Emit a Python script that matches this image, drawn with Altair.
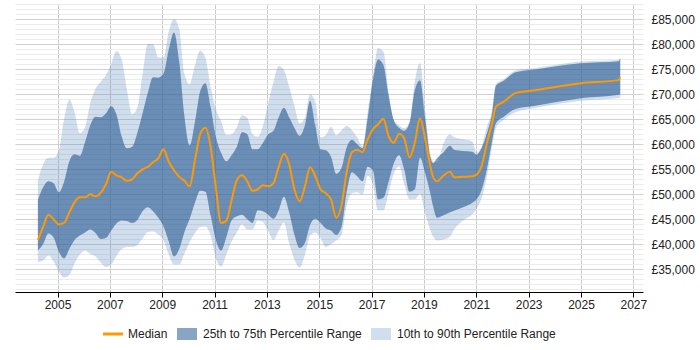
import altair as alt
import pandas as pd

# Sample dates: a regular 0.2-year grid up to 2019.25, then the sparser recent points
grid_years = [round(2004.25 + 0.2 * i, 2) for i in range(76)]
late_years = [2019.35, 2019.5, 2019.75, 2020.0, 2020.15, 2020.5, 2020.85, 2021.0,
              2021.2, 2021.4, 2021.6, 2021.75, 2022.05, 2022.5, 2023.25, 2025.0,
              2026.44, 2026.5]
years = grid_years + late_years

# Salary percentiles, £ thousands
median = [
    40.9, 43.5, 45.9, 45.0, 44.0, 44.3, 46.4, 48.4, 49.4, 49.4,
    50.0, 49.6, 50.3, 52.0, 54.5, 53.8, 53.4, 52.7, 53.0, 54.2,
    55.0, 55.5, 56.4, 57.2, 59.0, 56.5, 54.8, 53.5, 52.7, 51.6,
    56.8, 62.0, 63.3, 59.5, 51.3, 44.3, 44.7, 48.8, 52.8, 53.8,
    52.6, 50.7, 51.0, 51.8, 51.6, 52.2, 55.5, 58.1, 56.0, 51.0,
    48.6, 51.5, 55.4, 53.6, 51.0, 50.2, 49.0, 45.3, 47.8, 54.5,
    58.4, 58.9, 58.4, 61.0, 63.0, 64.0, 65.1, 61.6, 60.3, 62.1,
    61.1, 57.4, 60.3, 65.2, 61.0, 55.5,
    53.5, 52.6, 53.75, 54.5, 53.4, 53.5, 53.6, 53.9, 55.6, 60.1,
    64.1, 67.5, 68.5, 70.2, 70.8, 72.2, 72.8, 73.4,
]
p75 = [
    48.9, 51.4, 52.6, 52.2, 50.4, 52.5, 56.6, 58.0, 57.7, 60.4,
    63.8, 65.5, 65.4, 66.2, 67.6, 66.0, 61.6, 59.2, 59.5, 62.3,
    66.2, 70.3, 73.4, 73.3, 74.1, 78.9, 82.3, 76.5, 65.5, 59.8,
    64.5, 70.6, 72.2, 67.5, 61.5, 58.3, 56.6, 57.8, 59.5, 62.4,
    62.0, 59.0, 59.0, 60.3, 62.0, 62.7, 65.4, 67.3, 65.4, 63.3,
    61.7, 63.8, 68.7, 63.8, 59.0, 58.8, 57.5, 54.1, 55.3, 59.4,
    60.9, 60.0, 59.2, 65.2, 72.8, 76.9, 75.8, 69.7, 64.8, 63.3,
    62.7, 64.3, 70.8, 72.8, 65.0, 57.3,
    56.2, 57.2, 58.4, 59.7, 58.9, 58.65, 58.5, 57.9, 59.2, 62.1,
    66.1, 71.7, 72.7, 74.35, 74.9, 76.15, 76.55, 77.2,
]
p25 = [
    38.8, 40.1, 42.2, 41.4, 38.6, 37.2, 39.1, 40.9, 41.8, 42.4,
    43.0, 42.3, 41.1, 41.3, 42.8, 44.2, 44.8, 44.7, 44.3, 44.9,
    46.6, 47.4, 46.6, 45.3, 43.6, 40.6, 37.6, 39.1, 42.5, 45.1,
    48.3, 50.7, 50.5, 45.8, 40.9, 38.8, 41.5, 44.8, 45.6, 45.9,
    45.0, 44.3, 46.8, 46.6, 45.9, 45.1, 46.8, 49.5, 46.4, 42.0,
    39.3, 40.3, 43.9, 45.1, 44.3, 43.2, 42.8, 41.9, 43.5, 50.5,
    54.4, 53.6, 52.6, 55.5, 54.8, 49.0, 49.3, 52.5, 56.2, 57.8,
    54.9, 50.5, 51.0, 57.3, 54.2, 50.0,
    47.6, 45.3, 45.8, 46.4, 46.7, 47.4, 48.3, 48.9, 50.8, 54.9,
    60.5, 64.2, 65.5, 67.05, 67.7, 69.2, 69.9, 70.0,
]
p90 = [
    52.8, 56.0, 57.3, 57.3, 58.8, 65.0, 68.9, 66.4, 62.2, 63.4,
    68.2, 71.1, 72.5, 73.8, 76.0, 78.6, 76.9, 71.0, 66.0, 67.3,
    74.0, 80.0, 80.0, 77.3, 77.3, 82.5, 85.0, 83.0, 74.0, 72.0,
    75.8, 78.7, 77.2, 71.5, 67.0, 64.6, 61.9, 62.0, 63.4, 65.8,
    65.3, 62.0, 61.5, 63.7, 68.2, 72.4, 75.6, 74.8, 71.5, 67.7,
    64.2, 65.3, 70.0, 68.5, 61.4, 61.8, 63.5, 61.8, 62.8, 63.7,
    62.8, 61.4, 59.6, 66.5, 73.5, 79.2, 78.5, 70.5, 64.8, 63.8,
    63.2, 64.5, 72.5, 76.2, 66.7, 57.8,
    56.6, 56.4, 60.2, 62.0, 61.4, 61.0, 60.6, 58.3, 59.5, 63.4,
    66.7, 72.0, 73.0, 74.7, 75.2, 76.5, 76.8, 77.3,
]
p10 = [
    36.5, 36.8, 37.8, 36.6, 34.6, 33.4, 33.9, 36.2, 38.0, 38.8,
    38.1, 37.6, 36.4, 35.5, 36.0, 37.7, 39.1, 39.5, 39.5, 39.9,
    41.2, 42.5, 42.6, 42.0, 40.8, 38.0, 36.0, 36.0, 38.2, 40.5,
    42.3, 43.5, 43.6, 41.8, 37.2, 35.6, 38.0, 40.6, 42.4, 44.0,
    43.0, 43.0, 44.8, 44.5, 42.7, 40.9, 42.8, 44.4, 40.3, 37.0,
    35.4, 37.9, 41.8, 42.4, 41.3, 39.5, 40.1, 40.8, 42.0, 47.8,
    50.2, 50.4, 49.9, 53.7, 52.0, 46.8, 46.8, 50.3, 54.2, 55.6,
    52.0, 49.0, 49.0, 50.1, 46.1, 42.8,
    41.6, 40.8, 41.0, 41.6, 43.0, 44.8, 46.0, 47.0, 49.2, 53.4,
    59.4, 63.2, 64.9, 66.4, 67.25, 68.7, 69.25, 69.3,
]

x_ticks = list(range(2005, 2028, 2))
y_grid_values = list(range(31000, 88001, 1000))
legend_labels = ["Median", "25th to 75th Percentile Range", "10th to 90th Percentile Range"]

FONT = "Liberation Sans"
MEDIAN_COLOR = "#ff9900"
IQR_COLOR = "#2f5f95"
OUTER_COLOR = "#4f81bd"
TEXT_COLOR = "#222222"

df = pd.DataFrame({
    "year": years,
    "median": [v * 1000 for v in median],
    "p25": [v * 1000 for v in p25],
    "p75": [v * 1000 for v in p75],
    "p10": [v * 1000 for v in p10],
    "p90": [v * 1000 for v in p90],
})

x_scale = alt.Scale(domain=[2003.375, 2027.37], nice=False, zero=False)
y_scale = alt.Scale(domain=[30500, 88000], nice=False, zero=False)

x_axis = alt.Axis(
    values=x_ticks, tickCount=len(x_ticks), format="d", title=None, grid=True,
    gridColor="#cccccc", domainColor="#000000", tickColor="#000000", tickSize=5,
    labelPadding=2, labelFlush=False, labelFont=FONT, labelFontSize=12,
    labelColor=TEXT_COLOR,
)
y_axis = alt.Axis(
    orient="right", values=y_grid_values, tickCount=len(y_grid_values), title=None,
    labelExpr="datum.value % 5000 === 0 ? '£' + format(datum.value, ',') : ''",
    labelOverlap=False, ticks=False, domain=False, labelPadding=8,
    labelFont=FONT, labelFontSize=12, labelColor=TEXT_COLOR,
    gridColor={"condition": {"test": "datum.value % 5000 === 0", "value": "#d2d2d2"},
               "value": "#ebebeb"},
)

base = alt.Chart(df)

outer_band = base.mark_area(color=OUTER_COLOR, opacity=0.27, interpolate="monotone").encode(
    x=alt.X("year:Q", scale=x_scale, axis=x_axis),
    y=alt.Y("p10:Q", scale=y_scale, axis=y_axis),
    y2="p90:Q",
)
inner_band = base.mark_area(color=IQR_COLOR, opacity=0.63, interpolate="monotone").encode(
    x="year:Q", y="p25:Q", y2="p75:Q",
)
median_line = base.mark_line(color=MEDIAN_COLOR, strokeWidth=2, interpolate="monotone").encode(
    x="year:Q", y="median:Q",
)

# Legend row beneath the plot
one = pd.DataFrame({"k": [0]})
LEG_Y = 330
leg_line = alt.Chart(one).mark_rule(color=MEDIAN_COLOR, strokeWidth=3).encode(
    x=alt.value(88), x2=alt.value(108), y=alt.value(LEG_Y)
)
leg_iqr = alt.Chart(one).mark_rect(color="#88a5c4").encode(
    x=alt.value(162), x2=alt.value(182), y=alt.value(LEG_Y - 6), y2=alt.value(LEG_Y + 6)
)
leg_outer = alt.Chart(one).mark_rect(color="#d0dfee").encode(
    x=alt.value(356), x2=alt.value(376), y=alt.value(LEG_Y - 6), y2=alt.value(LEG_Y + 6)
)
leg_text = [
    alt.Chart(one).mark_text(align="left", baseline="middle", font=FONT, fontSize=12,
                             color=TEXT_COLOR).encode(
        x=alt.value(xp), y=alt.value(LEG_Y), text=alt.value(label)
    )
    for xp, label in zip([113, 188, 382], legend_labels)
]

chart = alt.layer(
    outer_band, inner_band, median_line, leg_line, leg_iqr, leg_outer, *leg_text
).properties(
    width=628, height=288,
    autosize=alt.AutoSizeParams(type="none"),
    padding={"left": 15, "top": 4, "right": 57, "bottom": 58},
).configure_view(stroke=None)

chart.save("out.html", embed_options={"renderer": "svg", "actions": False})
